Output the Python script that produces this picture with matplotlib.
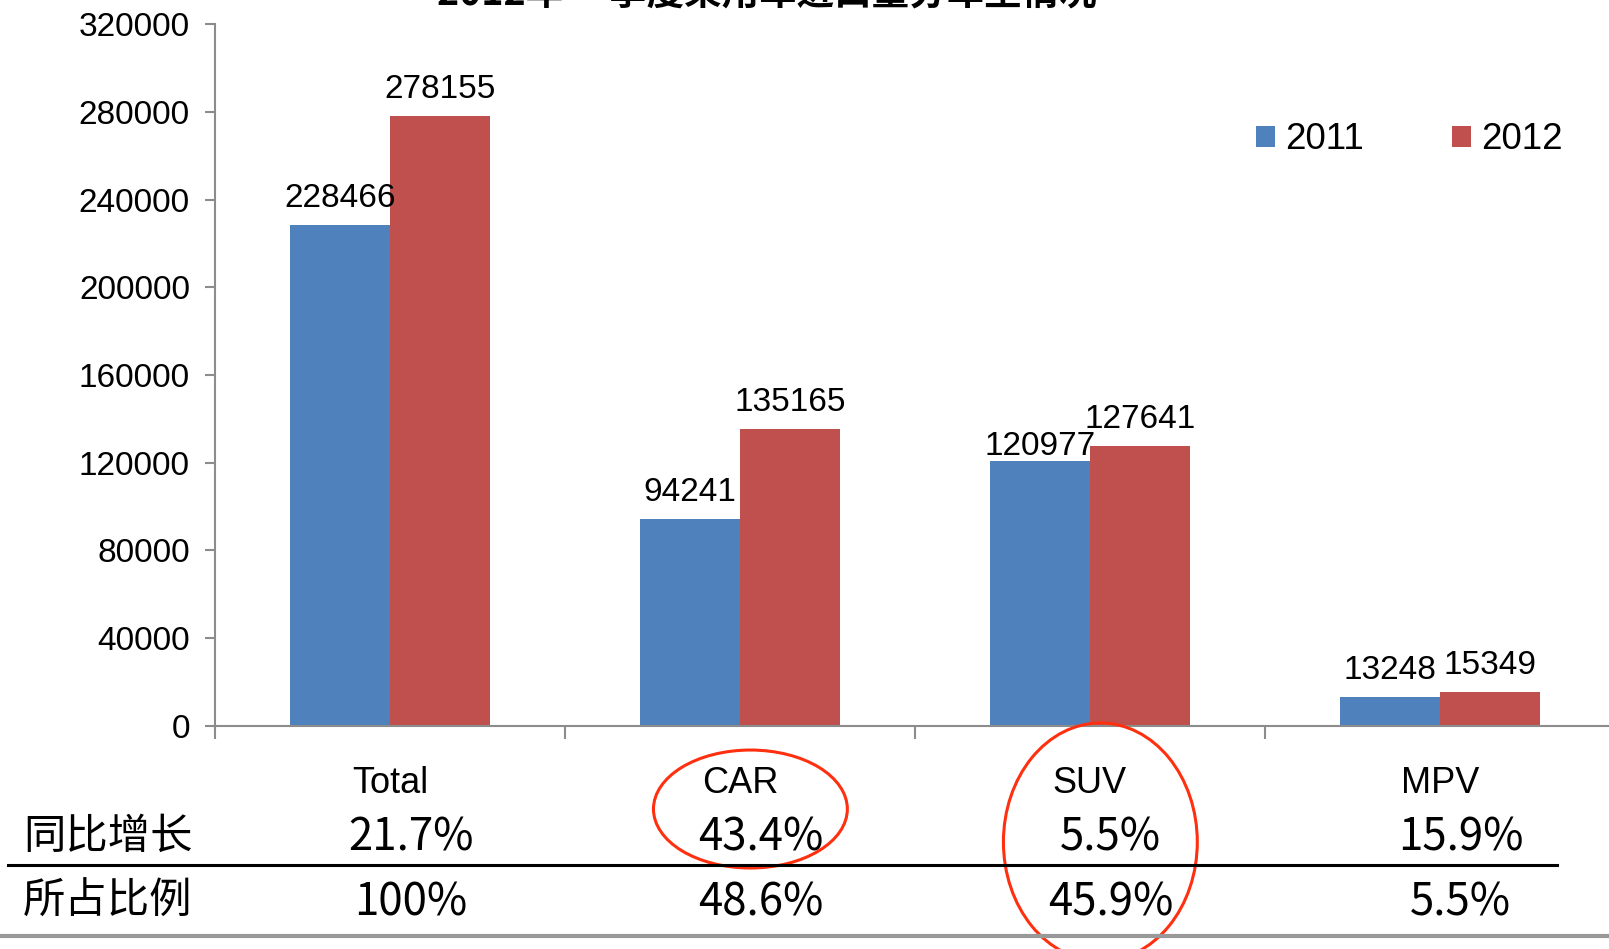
import matplotlib
matplotlib.use('Agg')
import matplotlib.pyplot as plt
import matplotlib.transforms as mtransforms
from matplotlib.patches import Ellipse
from matplotlib.lines import Line2D
import numpy as np

plt.rcParams['font.family'] = ['Liberation Sans', 'Noto Sans CJK SC', 'DejaVu Sans']

# data
categories = ['Total', 'CAR', 'SUV', 'MPV']
series_names = ['2011', '2012']
values_2011 = [228466, 94241, 120977, 13248]
values_2012 = [278155, 135165, 127641, 15349]
growth_label = '同比增长'
growth = ['21.7%', '43.4%', '5.5%', '15.9%']
share_label = '所占比例'
share = ['100%', '48.6%', '45.9%', '5.5%']
title = '2012年 一季度乘用车进口量分车型情况'
highlighted = ['CAR', 'SUV']

blue = '#4F81BD'
red = '#C0504D'
axis_gray = '#8c8c8c'

fig = plt.figure(figsize=(16.09, 9.49), dpi=100)
ax = fig.add_axes([0.1336, 0.235, 0.870, 0.7397])

x = np.arange(len(categories))
w = 0.2857
bars1 = ax.bar(x - w / 2, values_2011, w, color=blue, label=series_names[0])
bars2 = ax.bar(x + w / 2, values_2012, w, color=red, label=series_names[1])

# value labels on top of bars (the SUV 2011 one sits lower, as in the original)
nudge = {120977: -9}
for bars in (bars1, bars2):
    for b in bars:
        v = int(b.get_height())
        ax.annotate(f'{v}', (b.get_x() + b.get_width() / 2, v),
                    xytext=(0, 13 + nudge.get(v, 0)), textcoords='offset points',
                    ha='center', va='baseline', fontsize=24)

ax.set_xlim(-0.5, 3.5)
ax.set_ylim(0, 320000)
ax.set_yticks(np.arange(0, 320001, 40000))
ax.tick_params(axis='y', labelsize=24, length=7, width=1.5, color=axis_gray, pad=11)

ax.set_xticks(x)
ax.set_xticklabels(categories, fontsize=26)
ax.set_xticks(np.arange(-0.5, 3.6, 1), minor=True)
ax.tick_params(axis='x', which='major', length=0, pad=29)
ax.tick_params(axis='x', which='minor', length=9, width=1.5, color=axis_gray)

for side in ('top', 'right'):
    ax.spines[side].set_visible(False)
for side in ('left', 'bottom'):
    ax.spines[side].set_color(axis_gray)
    ax.spines[side].set_linewidth(1.5)

fig.legend(handles=[bars1, bars2], labels=series_names, loc='center',
           bbox_to_anchor=(0.8757, 0.8525), ncol=2, frameon=False,
           fontsize=26.5, handlelength=0.52, handleheight=0.52,
           handletextpad=0.27, columnspacing=2.4)

# title, cut off at the top like the original
fig.text(0.4767, 0.9937, title, ha='center', va='baseline', fontsize=27,
         fontweight='bold', family=['Noto Sans CJK SC', 'DejaVu Sans'])

# table under the chart
trans = mtransforms.blended_transform_factory(ax.transData, fig.transFigure)
cjk = ['Noto Sans CJK SC', 'DejaVu Sans']
row1_y, row2_y = 0.1179, 0.0495
fig.text(0.0143, row1_y, growth_label, ha='left', va='center', fontsize=30.5, family=cjk)
fig.text(0.0143, row2_y, share_label, ha='left', va='center', fontsize=30.5, family=cjk)
for i in range(len(categories)):
    ax.text(i + 0.06, row1_y, growth[i], transform=trans, ha='center', va='center',
            fontsize=31.5, family=cjk)
    ax.text(i + 0.06, row2_y, share[i], transform=trans, ha='center', va='center',
            fontsize=31.5, family=cjk)

fig.add_artist(Line2D([0.005, 0.9677], [0.0885, 0.0885], color='black', linewidth=2.2,
                      transform=fig.transFigure))
fig.add_artist(Line2D([0, 1], [0.0137, 0.0137], color='#999999', linewidth=3,
                      transform=fig.transFigure))

# red circles around CAR and SUV
ellipse_sizes = {'CAR': (0.1475, 0.1243), 'SUV': (0.1128, 0.2508)}
for name in highlighted:
    i = categories.index(name)
    cy, h = ellipse_sizes[name]
    e = Ellipse((i + 0.03, cy), 0.554, h, transform=trans, fill=False,
                edgecolor='#FF3010', linewidth=2.2, clip_on=False)
    fig.add_artist(e)

plt.savefig('out.png', dpi=100)
